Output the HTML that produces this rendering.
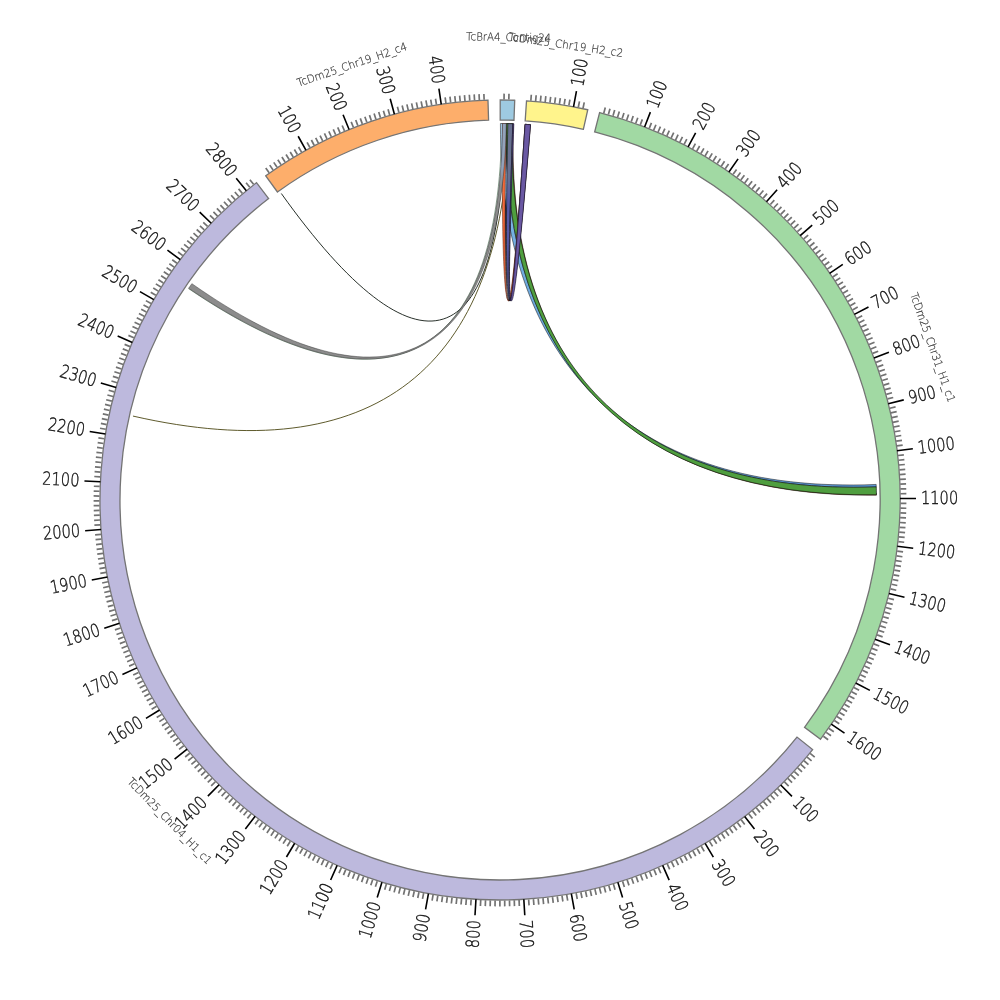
<!DOCTYPE html>
<html lang="en"><head><meta charset="utf-8"><title>Circos</title>
<style>html,body{margin:0;padding:0;background:#fff}svg{display:block}</style></head>
<body>
<svg width="1000" height="1000" viewBox="0 0 1000 1000">
<rect width="1000" height="1000" fill="#fff"/>
<defs><linearGradient id="gGray" gradientUnits="userSpaceOnUse" x1="0" y1="124" x2="0" y2="185"><stop offset="0" stop-color="#93a3bb"/><stop offset="0.7" stop-color="#93a3bb"/><stop offset="1" stop-color="#8c8c8c"/></linearGradient><linearGradient id="gInd" gradientUnits="userSpaceOnUse" x1="0" y1="124" x2="0" y2="200"><stop offset="0" stop-color="#687090"/><stop offset="0.7" stop-color="#687090"/><stop offset="1" stop-color="#5558a6"/></linearGradient><linearGradient id="gBlue" gradientUnits="userSpaceOnUse" x1="0" y1="124" x2="0" y2="490"><stop offset="0" stop-color="#a6d4f0"/><stop offset="0.12" stop-color="#9acbee"/><stop offset="0.3" stop-color="#74b0e2"/><stop offset="1" stop-color="#5b96d2"/></linearGradient></defs>
<g id="links">
<path d="M504.25 123.52 C501.59 359.51 418.4 385.63 281.33 193.51" fill="none" stroke="#101812" stroke-width="0.9"/>
<path d="M509.21 123.61 C503.19 369.54 372.78 470.91 132.98 416.07" fill="none" stroke="#4c4714" stroke-width="0.9"/>
<path d="M501.64 123.5 C500.59 363.5 387.06 423.34 188.49 288.55" fill="none" stroke="#2f5a38" stroke-width="0.55"/>
<path d="M505.83 123.55 C502.18 359.52 511.32 359.96 530.35 124.73 A376.5 376.5 0 0 0 525.09 124.34 C509.36 359.81 503.02 359.53 508.09 123.59 A376.5 376.5 0 0 0 505.83 123.55 Z" fill="#1f2a4d" fill-opacity="1" stroke="#0d0d0d" stroke-width="0.4" stroke-linejoin="round"/>
<path d="M500.42 123.5 C500.15 365.5 634.42 495.32 876.27 486.91 A376.5 376.5 0 0 0 876.18 484.43 C634.38 494.44 502.16 365.52 506.06 123.55 A376.5 376.5 0 0 0 500.42 123.5 Z" fill="url(#gBlue)" fill-opacity="1" stroke="#0d0d0d" stroke-width="0.5" stroke-linejoin="round"/>
<path d="M510.56 123.65 C503.77 365.55 634.49 498.27 876.47 495.15 A376.5 376.5 0 0 0 876.44 493.22 C634.48 497.58 504.82 365.59 513.49 123.74 A376.5 376.5 0 0 0 510.56 123.65 Z" fill="#8a3a1c" fill-opacity="1" stroke="#0d0d0d" stroke-width="0.4" stroke-linejoin="round"/>
<path d="M506.28 123.55 C502.24 365.52 634.49 498.14 876.46 494.79 A376.5 376.5 0 0 0 876.27 486.91 C634.42 495.32 504.58 365.58 512.82 123.72 A376.5 376.5 0 0 0 506.28 123.55 Z" fill="#4f9e3f" fill-opacity="1" stroke="#0d0d0d" stroke-width="0.6" stroke-linejoin="round"/>
<path d="M502.45 123.51 C500.91 359.5 511.32 359.96 530.35 124.73 A376.5 376.5 0 0 0 525.09 124.34 C509.36 359.81 502.26 359.52 506.06 123.55 A376.5 376.5 0 0 0 502.45 123.51 Z" fill="#f26b3a" fill-opacity="1" stroke="#5a2010" stroke-width="0.55" stroke-linejoin="round"/>
<path d="M502.45 123.51 C500.89 363.5 388.29 421.56 191.87 283.65 A376.5 376.5 0 0 0 188.66 288.29 C387.12 423.24 502.28 363.52 506.28 123.55 A376.5 376.5 0 0 0 502.45 123.51 Z" fill="url(#gGray)" fill-opacity="1" stroke="#2a2a2a" stroke-width="0.45" stroke-linejoin="round"/>
<path d="M507.86 123.58 C502.93 359.53 511.32 359.96 530.35 124.73 A376.5 376.5 0 0 0 525.09 124.34 C509.36 359.81 504.78 359.58 512.82 123.72 A376.5 376.5 0 0 0 507.86 123.58 Z" fill="url(#gInd)" fill-opacity="1" stroke="#0d0d0d" stroke-width="0.6" stroke-linejoin="round"/>
<path d="M512.82 123.72 C504.78 359.58 511.41 359.96 530.57 124.74 A376.5 376.5 0 0 0 525.09 124.34 C509.36 359.81 505.17 359.6 513.85 123.75 A376.5 376.5 0 0 0 512.82 123.72 Z" fill="#6a58a3" fill-opacity="1" stroke="#15102a" stroke-width="0.6" stroke-linejoin="round"/>
</g>
<g id="ideograms" stroke="#747474" stroke-width="1.3" stroke-linejoin="miter">
<path d="M500.21 100 A400 400 0 0 1 514.72 100.27 L513.98 120.26 A380 380 0 0 0 500.2 120 Z" fill="#9ecae1"/>
<path d="M526.51 100.88 A400 400 0 0 1 587.78 109.75 L583.39 129.26 A380 380 0 0 0 525.18 120.84 Z" fill="#fff48c"/>
<path d="M599.61 112.6 A400 400 0 0 1 820.58 739.23 L804.55 727.27 A380 380 0 0 0 594.63 131.97 Z" fill="#a1d9a3"/>
<path d="M812.61 749.55 A400 400 0 1 1 256.48 182.67 L268.66 198.53 A380 380 0 1 0 796.98 737.07 Z" fill="#bdb9dd"/>
<path d="M265.73 175.78 A400 400 0 0 1 487.98 100.18 L488.58 120.17 A380 380 0 0 0 277.45 191.99 Z" fill="#fdae6b"/>
</g>
<path d="M504.05 99.52 L504.11 93.62 M508.84 99.6 L508.97 93.7 M530.85 100.69 L531.3 94.81 M535.63 101.09 L536.15 95.21 M540.4 101.54 L540.99 95.67 M545.17 102.06 L545.83 96.19 M549.93 102.62 L550.66 96.77 M554.68 103.25 L555.49 97.41 M559.43 103.93 L560.3 98.1 M564.17 104.67 L565.11 98.85 M568.89 105.47 L569.91 99.66 M578.32 107.23 L579.48 101.45 M583.02 108.2 L584.24 102.43 M603.77 113.18 L605.3 107.48 M608.39 114.45 L609.99 108.77 M613 115.77 L614.67 110.11 M617.59 117.15 L619.33 111.51 M622.17 118.59 L623.97 112.97 M626.73 120.08 L628.59 114.48 M631.27 121.62 L633.2 116.05 M635.79 123.22 L637.79 117.67 M640.29 124.87 L642.36 119.35 M649.23 128.34 L651.43 122.87 M653.67 130.15 L655.93 124.71 M658.09 132.02 L660.42 126.6 M662.48 133.94 L664.88 128.55 M666.85 135.91 L669.31 130.55 M671.2 137.94 L673.72 132.6 M675.52 140.01 L678.11 134.71 M679.82 142.14 L682.47 136.87 M684.09 144.32 L686.8 139.08 M692.56 148.83 L695.39 143.65 M696.75 151.16 L699.64 146.02 M700.91 153.54 L703.87 148.43 M705.04 155.97 L708.06 150.9 M709.15 158.45 L712.23 153.42 M713.22 160.98 L716.36 155.98 M717.26 163.55 L720.47 158.6 M721.28 166.18 L724.54 161.26 M725.26 168.85 L728.58 163.97 M733.12 174.34 L736.56 169.54 M737 177.15 L740.5 172.4 M740.85 180.02 L744.4 175.3 M744.67 182.92 L748.27 178.25 M748.45 185.87 L752.11 181.25 M752.19 188.87 L755.9 184.29 M755.9 191.91 L759.67 187.37 M759.57 195 L763.39 190.51 M763.2 198.13 L767.08 193.68 M770.35 204.52 L774.33 200.16 M773.87 207.77 L777.9 203.47 M777.35 211.07 L781.43 206.82 M780.79 214.42 L784.92 210.21 M784.19 217.8 L788.37 213.64 M787.55 221.22 L791.78 217.11 M790.86 224.68 L795.15 220.63 M794.14 228.19 L798.47 224.18 M797.37 231.73 L801.75 227.77 M803.71 238.92 L808.18 235.08 M806.81 242.58 L811.33 238.79 M809.87 246.27 L814.44 242.53 M812.89 250 L817.5 246.32 M815.86 253.76 L820.51 250.14 M818.79 257.56 L823.48 253.99 M821.67 261.4 L826.4 257.88 M824.5 265.26 L829.28 261.81 M827.29 269.17 L832.11 265.77 M832.72 277.07 L837.62 273.78 M835.36 281.07 L840.3 277.84 M837.96 285.1 L842.94 281.93 M840.51 289.16 L845.53 286.06 M843.01 293.25 L848.06 290.21 M845.46 297.37 L850.55 294.39 M847.86 301.53 L852.99 298.6 M850.21 305.7 L855.37 302.84 M852.51 309.91 L857.71 307.11 M856.96 318.41 L862.22 315.73 M859.11 322.69 L864.4 320.08 M861.21 327.01 L866.53 324.46 M863.26 331.34 L868.61 328.86 M865.25 335.7 L870.63 333.28 M867.19 340.09 L872.6 337.73 M869.08 344.5 L874.52 342.21 M870.91 348.93 L876.38 346.7 M872.7 353.38 L878.19 351.22 M876.1 362.34 L881.64 360.32 M877.72 366.86 L883.29 364.89 M879.29 371.39 L884.88 369.49 M880.8 375.94 L886.41 374.11 M882.26 380.51 L887.89 378.75 M883.66 385.09 L889.31 383.4 M885.01 389.69 L890.68 388.07 M886.3 394.31 L891.99 392.75 M887.54 398.94 L893.25 397.45 M889.85 408.25 L895.59 406.9 M890.92 412.93 L896.68 411.64 M891.93 417.61 L897.71 416.4 M892.89 422.31 L898.68 421.17 M893.79 427.02 L899.6 425.95 M894.64 431.74 L900.45 430.73 M895.43 436.47 L901.25 435.53 M896.16 441.21 L902 440.34 M896.84 445.96 L902.68 445.16 M898.02 455.47 L903.88 454.82 M898.52 460.24 L904.39 459.66 M898.97 465.02 L904.85 464.5 M899.36 469.8 L905.24 469.35 M899.69 474.58 L905.58 474.2 M899.97 479.37 L905.86 479.06 M900.19 484.16 L906.08 483.92 M900.35 488.95 L906.25 488.79 M900.45 493.74 L906.35 493.65 M900.49 503.33 L906.39 503.38 M900.42 508.13 L906.32 508.25 M900.29 512.92 L906.19 513.11 M900.11 517.71 L906 517.97 M899.87 522.5 L905.76 522.83 M899.57 527.29 L905.46 527.69 M899.21 532.07 L905.1 532.54 M898.8 536.85 L904.68 537.39 M898.33 541.62 L904.2 542.23 M897.22 551.14 L903.07 551.9 M896.58 555.9 L902.42 556.72 M895.88 560.64 L901.71 561.53 M895.13 565.38 L900.95 566.34 M894.32 570.1 L900.13 571.14 M893.45 574.82 L899.25 575.92 M892.53 579.52 L898.31 580.7 M891.55 584.22 L897.31 585.46 M890.51 588.9 L896.26 590.21 M888.27 598.22 L893.99 599.67 M887.06 602.87 L892.77 604.38 M885.81 607.49 L891.49 609.08 M884.49 612.1 L890.15 613.76 M883.12 616.7 L888.76 618.42 M881.7 621.28 L887.32 623.06 M880.22 625.84 L885.82 627.69 M878.68 630.38 L884.26 632.3 M877.09 634.91 L882.65 636.89 M873.76 643.9 L879.26 646.02 M872.01 648.36 L877.49 650.55 M870.2 652.8 L875.66 655.06 M868.35 657.23 L873.77 659.54 M866.44 661.63 L871.84 664.01 M864.48 666 L869.85 668.45 M862.46 670.35 L867.8 672.86 M860.4 674.68 L865.71 677.25 M858.28 678.98 L863.56 681.62 M853.89 687.51 L859.11 690.27 M851.62 691.73 L856.8 694.56 M849.3 695.93 L854.45 698.82 M846.93 700.1 L852.04 703.05 M844.51 704.24 L849.59 707.25 M842.04 708.35 L847.08 711.42 M839.52 712.43 L844.52 715.56 M836.95 716.48 L841.92 719.67 M834.34 720.5 L839.26 723.74 M828.96 728.44 L833.81 731.8 M826.2 732.36 L831.01 735.78 M823.4 736.25 L828.16 739.73 M810.14 753.41 L814.71 757.14 M807.08 757.1 L811.6 760.89 M803.98 760.76 L808.46 764.6 M800.84 764.38 L805.27 768.28 M797.65 767.96 L802.03 771.91 M794.42 771.51 L798.76 775.51 M791.15 775.01 L795.44 779.07 M787.83 778.48 L792.07 782.58 M784.48 781.91 L788.67 786.06 M777.65 788.64 L781.74 792.89 M774.17 791.94 L778.21 796.24 M770.66 795.2 L774.65 799.55 M767.1 798.42 L771.04 802.82 M763.51 801.6 L767.39 806.04 M759.88 804.73 L763.71 809.22 M756.22 807.82 L759.99 812.36 M752.51 810.87 L756.23 815.45 M748.77 813.87 L752.44 818.49 M741.18 819.73 L744.74 824.44 M737.34 822.6 L740.84 827.35 M733.46 825.42 L736.9 830.21 M729.55 828.19 L732.93 833.02 M725.6 830.91 L728.92 835.79 M721.62 833.59 L724.89 838.51 M717.61 836.22 L720.82 841.17 M713.57 838.8 L716.72 843.79 M709.5 841.34 L712.59 846.36 M701.27 846.25 L704.23 851.35 M697.11 848.64 L700.01 853.77 M692.92 850.97 L695.76 856.14 M688.7 853.26 L691.48 858.46 M684.46 855.49 L687.18 860.73 M680.19 857.67 L682.85 862.94 M675.9 859.81 L678.49 865.11 M671.58 861.89 L674.1 867.22 M667.23 863.92 L669.69 869.28 M658.47 867.81 L660.8 873.23 M654.05 869.69 L656.32 875.13 M649.62 871.5 L651.82 876.98 M645.16 873.27 L647.3 878.77 M640.68 874.98 L642.75 880.5 M636.18 876.64 L638.19 882.19 M631.66 878.24 L633.6 883.81 M627.12 879.79 L628.99 885.38 M622.57 881.28 L624.37 886.9 M613.4 884.11 L615.07 889.77 M608.79 885.44 L610.4 891.12 M604.17 886.71 L605.71 892.41 M599.53 887.93 L601 893.65 M594.88 889.1 L596.28 894.83 M590.22 890.21 L591.55 895.95 M585.54 891.26 L586.8 897.02 M580.85 892.25 L582.04 898.03 M576.15 893.19 L577.27 898.99 M566.71 894.91 L567.69 900.72 M561.98 895.68 L562.89 901.5 M557.24 896.39 L558.08 902.23 M552.49 897.05 L553.26 902.9 M547.73 897.65 L548.43 903.5 M542.96 898.19 L543.6 904.05 M538.19 898.67 L538.76 904.55 M533.42 899.1 L533.91 904.98 M528.64 899.47 L529.06 905.36 M519.06 900.05 L519.34 905.94 M514.27 900.25 L514.48 906.14 M509.48 900.39 L509.62 906.29 M504.69 900.47 L504.75 906.37 M499.89 900.5 L499.89 906.4 M495.1 900.47 L495.02 906.37 M490.3 900.38 L490.16 906.28 M485.51 900.24 L485.29 906.13 M480.72 900.04 L480.43 905.93 M471.14 899.46 L470.72 905.34 M466.36 899.09 L465.87 904.96 M461.59 898.65 L461.02 904.53 M456.82 898.17 L456.18 904.03 M452.05 897.62 L451.35 903.48 M447.3 897.02 L446.52 902.87 M442.55 896.36 L441.7 902.2 M437.81 895.64 L436.89 901.47 M433.07 894.87 L432.09 900.69 M423.64 893.15 L422.51 898.94 M418.94 892.21 L417.74 897.99 M414.25 891.21 L412.98 896.97 M409.57 890.16 L408.24 895.9 M404.9 889.05 L403.5 894.78 M400.25 887.88 L398.78 893.59 M395.62 886.66 L394.08 892.35 M390.99 885.38 L389.39 891.06 M386.39 884.05 L384.71 889.71 M377.22 881.22 L375.42 886.83 M372.67 879.72 L370.79 885.31 M368.13 878.17 L366.19 883.74 M363.61 876.56 L361.61 882.11 M359.12 874.9 L357.04 880.43 M354.64 873.19 L352.5 878.69 M350.18 871.42 L347.97 876.89 M345.74 869.6 L343.47 875.05 M341.33 867.73 L338.99 873.15 M332.57 863.82 L330.1 869.18 M328.23 861.79 L325.7 867.12 M323.91 859.71 L321.31 865.01 M319.61 857.58 L316.96 862.84 M315.34 855.39 L312.62 860.63 M311.1 853.15 L308.32 858.36 M306.89 850.87 L304.04 856.04 M302.7 848.53 L299.79 853.66 M298.54 846.14 L295.57 851.24 M290.31 841.22 L287.22 846.25 M286.24 838.69 L283.09 843.67 M282.2 836.1 L278.99 841.05 M278.19 833.47 L274.93 838.38 M274.22 830.79 L270.89 835.66 M270.27 828.06 L266.89 832.9 M266.36 825.29 L262.92 830.08 M262.48 822.47 L258.98 827.22 M258.64 819.6 L255.08 824.31 M251.06 813.73 L247.39 818.35 M247.32 810.73 L243.6 815.31 M243.62 807.68 L239.84 812.21 M239.95 804.59 L236.12 809.08 M236.32 801.45 L232.44 805.89 M232.73 798.28 L228.8 802.67 M229.18 795.05 L225.19 799.4 M225.67 791.79 L221.63 796.09 M222.19 788.49 L218.1 792.74 M215.37 781.75 L211.17 785.9 M212.01 778.32 L207.77 782.42 M208.7 774.85 L204.41 778.9 M205.43 771.35 L201.09 775.34 M202.2 767.8 L197.82 771.75 M199.02 764.22 L194.58 768.11 M195.88 760.59 L191.4 764.43 M192.78 756.93 L188.25 760.72 M189.72 753.24 L185.15 756.97 M183.75 745.74 L179.09 749.36 M180.83 741.93 L176.13 745.5 M177.96 738.09 L173.21 741.6 M175.13 734.22 L170.34 737.67 M172.35 730.31 L167.52 733.71 M169.61 726.37 L164.75 729.71 M166.93 722.4 L162.02 725.68 M164.29 718.4 L159.34 721.62 M161.7 714.36 L156.71 717.52 M156.66 706.2 L151.6 709.24 M154.22 702.08 L149.12 705.05 M151.82 697.92 L146.69 700.84 M149.48 693.74 L144.32 696.59 M147.18 689.53 L141.99 692.32 M144.94 685.29 L139.71 688.02 M142.75 681.03 L137.48 683.69 M140.61 676.74 L135.31 679.34 M138.52 672.42 L133.19 674.96 M134.49 663.72 L129.11 666.13 M132.56 659.33 L127.14 661.68 M130.68 654.92 L125.23 657.2 M128.85 650.49 L123.38 652.7 M127.07 646.03 L121.58 648.18 M125.35 641.56 L119.83 643.64 M123.68 637.06 L118.14 639.08 M122.07 632.54 L116.5 634.5 M120.51 628.01 L114.92 629.9 M117.55 618.89 L111.92 620.64 M116.16 614.3 L110.5 615.98 M114.82 609.7 L109.14 611.31 M113.53 605.08 L107.84 606.62 M112.3 600.44 L106.59 601.92 M111.12 595.79 L105.4 597.2 M110.01 591.13 L104.26 592.47 M108.94 586.45 L103.18 587.73 M107.94 581.77 L102.16 582.97 M106.09 572.35 L100.29 573.42 M105.25 567.63 L99.44 568.63 M104.47 562.9 L98.64 563.83 M103.75 558.16 L97.91 559.02 M103.08 553.41 L97.23 554.2 M102.47 548.66 L96.61 549.37 M101.91 543.9 L96.05 544.54 M101.42 539.13 L95.54 539.7 M100.98 534.35 L95.1 534.86 M100.27 524.79 L94.38 525.15 M100 520 L94.11 520.29 M99.79 515.21 L93.89 515.43 M99.64 510.42 L93.74 510.57 M99.54 505.62 L93.64 505.7 M99.5 500.83 L93.6 500.84 M99.52 496.03 L93.62 495.97 M99.6 491.24 L93.7 491.11 M99.73 486.44 L93.83 486.24 M100.17 476.86 L94.28 476.52 M100.47 472.08 L94.59 471.67 M100.84 467.3 L94.96 466.82 M101.26 462.52 L95.38 461.97 M101.73 457.75 L95.87 457.13 M102.27 452.98 L96.41 452.29 M102.86 448.23 L97.01 447.46 M103.51 443.47 L97.67 442.64 M104.21 438.73 L98.38 437.83 M105.79 429.27 L99.99 428.23 M106.67 424.56 L100.88 423.45 M107.6 419.85 L101.82 418.67 M108.59 415.16 L102.82 413.91 M109.63 410.48 L103.88 409.16 M110.73 405.81 L105 404.43 M111.89 401.16 L106.17 399.7 M113.1 396.52 L107.4 395 M114.37 391.9 L108.68 390.3 M117.06 382.69 L111.42 380.97 M118.5 378.12 L112.88 376.32 M119.98 373.56 L114.39 371.7 M121.52 369.02 L115.95 367.09 M123.12 364.5 L117.57 362.5 M124.77 359.99 L119.24 357.93 M126.47 355.51 L120.97 353.38 M128.23 351.05 L122.75 348.85 M130.04 346.61 L124.59 344.35 M133.82 337.79 L128.42 335.4 M135.79 333.42 L130.42 330.97 M137.81 329.07 L132.47 326.55 M139.88 324.75 L134.57 322.17 M142 320.45 L136.73 317.8 M144.18 316.18 L138.94 313.47 M146.4 311.93 L141.2 309.16 M148.68 307.71 L143.51 304.88 M151.01 303.52 L145.87 300.62 M155.81 295.22 L150.74 292.2 M158.29 291.11 L153.26 288.03 M160.82 287.03 L155.82 283.9 M163.39 282.99 L158.43 279.79 M166.01 278.97 L161.09 275.72 M168.68 274.99 L163.8 271.68 M171.4 271.04 L166.56 267.67 M174.16 267.12 L169.36 263.69 M176.98 263.24 L172.22 259.75 M182.74 255.57 L178.06 251.97 M185.69 251.79 L181.06 248.13 M188.68 248.05 L184.1 244.33 M191.72 244.34 L187.18 240.57 M194.8 240.66 L190.31 236.84 M197.93 237.03 L193.48 233.15 M201.1 233.43 L196.7 229.5 M204.31 229.87 L199.96 225.89 M207.57 226.35 L203.26 222.32 M214.2 219.43 L209.99 215.29 M217.58 216.03 L213.42 211.84 M221 212.66 L216.89 208.43 M224.46 209.34 L220.41 205.06 M227.96 206.07 L223.96 201.74 M231.5 202.83 L227.55 198.45 M235.08 199.64 L231.18 195.21 M238.7 196.49 L234.85 192.02 M242.35 193.38 L238.55 188.86 M249.76 187.3 L246.08 182.69 M253.53 184.33 L249.89 179.68 M269.15 172.73 L265.75 167.91 M273.08 169.99 L269.74 165.12 M277.05 167.29 L273.77 162.39 M281.05 164.65 L277.82 159.71 M285.08 162.05 L281.91 157.07 M289.14 159.5 L286.04 154.49 M293.23 157 L290.19 151.95 M297.36 154.55 L294.37 149.46 M301.51 152.15 L298.58 147.02 M309.89 147.5 L307.09 142.3 M314.13 145.24 L311.39 140.02 M318.39 143.05 L315.71 137.79 M322.67 140.9 L320.06 135.61 M326.99 138.8 L324.44 133.48 M331.32 136.75 L328.84 131.4 M335.68 134.76 L333.26 129.38 M340.07 132.82 L337.71 127.41 M344.48 130.93 L342.18 125.49 M353.36 127.31 L351.2 121.82 M357.83 125.58 L355.74 120.07 M362.32 123.91 L360.29 118.37 M366.84 122.29 L364.87 116.72 M371.37 120.72 L369.47 115.13 M375.92 119.21 L374.09 113.6 M380.49 117.75 L378.73 112.12 M385.07 116.34 L383.38 110.69 M389.67 115 L388.05 109.32 M398.92 112.46 L397.43 106.76 M403.57 111.28 L402.15 105.56 M408.23 110.16 L406.88 104.41 M412.9 109.08 L411.62 103.33 M417.59 108.07 L416.38 102.3 M422.29 107.11 L421.14 101.32 M427 106.21 L425.92 100.41 M431.72 105.36 L430.71 99.55 M436.45 104.57 L435.51 98.75 M445.93 103.17 L445.14 97.32 M450.69 102.55 L449.96 96.69 M455.45 101.99 L454.8 96.12 M460.22 101.48 L459.63 95.61 M464.99 101.03 L464.48 95.16 M469.77 100.64 L469.33 94.76 M474.56 100.31 L474.18 94.42 M479.34 100.03 L479.04 94.14 M484.13 99.81 L483.9 93.92" stroke="#727272" stroke-width="1.7" fill="none"/>
<path d="M573.52 106.81 L576.46 91.09 M644.59 127.05 L650.37 112.13 M688.1 146.99 L695.63 132.87 M728.92 171.98 L738.08 158.86 M766.46 201.67 L777.12 189.74 M800.19 235.64 L812.19 225.06 M829.61 273.38 L842.8 264.32 M854.32 314.38 L868.5 306.95 M873.96 358.03 L888.92 352.35 M888.24 403.71 L903.77 399.86 M896.96 450.77 L912.84 448.8 M900 498.54 L916 498.48 M897.31 546.33 L913.2 548.18 M888.93 593.45 L904.49 597.19 M874.98 639.24 L889.98 644.81 M855.67 683.03 L869.89 690.35 M831.26 724.2 L844.51 733.17 M780.73 784.94 L791.96 796.33 M744.69 816.43 L754.48 829.09 M705.14 843.39 L713.35 857.13 M662.66 865.43 L669.16 880.05 M617.84 882.25 L622.56 897.54 M571.34 893.59 L574.2 909.33 M523.82 899.29 L524.78 915.26 M475.96 899.28 L475 915.25 M428.44 893.55 L425.58 909.29 M381.95 882.18 L377.22 897.47 M337.14 865.35 L330.63 879.96 M294.67 843.28 L286.46 857.01 M255.14 816.29 L245.34 828.95 M219.11 784.78 L207.87 796.17 M187.11 749.19 L174.59 759.16 M159.58 710.04 L145.96 718.44 M136.93 667.87 L122.41 674.59 M119.48 623.3 L104.26 628.24 M107.48 576.97 L91.77 580.05 M101.09 529.53 L85.14 530.72 M100.42 481.68 L84.44 480.94 M105.47 434.08 L89.69 431.44 M116.17 387.43 L100.81 382.92 M132.36 342.39 L117.66 336.08 M153.82 299.6 L139.97 291.59 M180.23 259.69 L167.44 250.08 M211.23 223.21 L199.68 212.14 M246.35 190.7 L236.21 178.33 M305.93 150.23 L298.16 136.24 M349.09 129.56 L343.06 114.74 M394.42 114.18 L390.2 98.75 M441.26 104.34 L438.91 88.51" stroke="#000" stroke-width="1.6" fill="none"/>
<g id="ticklabels" font-family="'DejaVu Sans Light','Liberation Sans',sans-serif" font-size="18" fill="#111" stroke="#111" stroke-width="0.4">
<text transform="translate(577.38 86.17) rotate(-79.41)" text-anchor="start" dy="5.6" textLength="27.9" lengthAdjust="spacingAndGlyphs">100</text>
<text transform="translate(652.18 107.47) rotate(-68.81)" text-anchor="start" dy="5.6" textLength="27.9" lengthAdjust="spacingAndGlyphs">100</text>
<text transform="translate(697.98 128.45) rotate(-61.95)" text-anchor="start" dy="5.6" textLength="27.9" lengthAdjust="spacingAndGlyphs">200</text>
<text transform="translate(740.94 154.76) rotate(-55.09)" text-anchor="start" dy="5.6" textLength="27.9" lengthAdjust="spacingAndGlyphs">300</text>
<text transform="translate(780.45 186.01) rotate(-48.23)" text-anchor="start" dy="5.6" textLength="27.9" lengthAdjust="spacingAndGlyphs">400</text>
<text transform="translate(815.95 221.76) rotate(-41.37)" text-anchor="start" dy="5.6" textLength="27.9" lengthAdjust="spacingAndGlyphs">500</text>
<text transform="translate(846.92 261.49) rotate(-34.51)" text-anchor="start" dy="5.6" textLength="27.9" lengthAdjust="spacingAndGlyphs">600</text>
<text transform="translate(872.92 304.63) rotate(-27.65)" text-anchor="start" dy="5.6" textLength="27.9" lengthAdjust="spacingAndGlyphs">700</text>
<text transform="translate(893.59 350.57) rotate(-20.79)" text-anchor="start" dy="5.6" textLength="27.9" lengthAdjust="spacingAndGlyphs">800</text>
<text transform="translate(908.62 398.66) rotate(-13.93)" text-anchor="start" dy="5.6" textLength="27.9" lengthAdjust="spacingAndGlyphs">900</text>
<text transform="translate(917.8 448.19) rotate(-7.07)" text-anchor="start" dy="5.6" textLength="37.2" lengthAdjust="spacingAndGlyphs">1000</text>
<text transform="translate(921 498.46) rotate(-0.21)" text-anchor="start" dy="5.6" textLength="37.2" lengthAdjust="spacingAndGlyphs">1100</text>
<text transform="translate(918.17 548.76) rotate(6.65)" text-anchor="start" dy="5.6" textLength="37.2" lengthAdjust="spacingAndGlyphs">1200</text>
<text transform="translate(909.35 598.36) rotate(13.51)" text-anchor="start" dy="5.6" textLength="37.2" lengthAdjust="spacingAndGlyphs">1300</text>
<text transform="translate(894.67 646.55) rotate(20.37)" text-anchor="start" dy="5.6" textLength="37.2" lengthAdjust="spacingAndGlyphs">1400</text>
<text transform="translate(874.34 692.64) rotate(27.23)" text-anchor="start" dy="5.6" textLength="37.2" lengthAdjust="spacingAndGlyphs">1500</text>
<text transform="translate(848.65 735.97) rotate(34.09)" text-anchor="start" dy="5.6" textLength="37.2" lengthAdjust="spacingAndGlyphs">1600</text>
<text transform="translate(795.47 799.9) rotate(45.43)" text-anchor="start" dy="5.6" textLength="27.9" lengthAdjust="spacingAndGlyphs">100</text>
<text transform="translate(757.54 833.04) rotate(52.29)" text-anchor="start" dy="5.6" textLength="27.9" lengthAdjust="spacingAndGlyphs">200</text>
<text transform="translate(715.91 861.42) rotate(59.15)" text-anchor="start" dy="5.6" textLength="27.9" lengthAdjust="spacingAndGlyphs">300</text>
<text transform="translate(671.2 884.62) rotate(66.01)" text-anchor="start" dy="5.6" textLength="27.9" lengthAdjust="spacingAndGlyphs">400</text>
<text transform="translate(624.03 902.31) rotate(72.87)" text-anchor="start" dy="5.6" textLength="27.9" lengthAdjust="spacingAndGlyphs">500</text>
<text transform="translate(575.09 914.25) rotate(79.73)" text-anchor="start" dy="5.6" textLength="27.9" lengthAdjust="spacingAndGlyphs">600</text>
<text transform="translate(525.07 920.25) rotate(86.59)" text-anchor="start" dy="5.6" textLength="27.9" lengthAdjust="spacingAndGlyphs">700</text>
<text transform="translate(474.7 920.24) rotate(273.45)" text-anchor="end" dy="5.6" textLength="27.9" lengthAdjust="spacingAndGlyphs">800</text>
<text transform="translate(424.68 914.21) rotate(280.31)" text-anchor="end" dy="5.6" textLength="27.9" lengthAdjust="spacingAndGlyphs">900</text>
<text transform="translate(375.75 902.25) rotate(287.17)" text-anchor="end" dy="5.6" textLength="37.2" lengthAdjust="spacingAndGlyphs">1000</text>
<text transform="translate(328.59 884.53) rotate(294.03)" text-anchor="end" dy="5.6" textLength="37.2" lengthAdjust="spacingAndGlyphs">1100</text>
<text transform="translate(283.89 861.3) rotate(300.89)" text-anchor="end" dy="5.6" textLength="37.2" lengthAdjust="spacingAndGlyphs">1200</text>
<text transform="translate(242.28 832.9) rotate(307.75)" text-anchor="end" dy="5.6" textLength="37.2" lengthAdjust="spacingAndGlyphs">1300</text>
<text transform="translate(204.36 799.73) rotate(314.61)" text-anchor="end" dy="5.6" textLength="37.2" lengthAdjust="spacingAndGlyphs">1400</text>
<text transform="translate(170.68 762.28) rotate(321.47)" text-anchor="end" dy="5.6" textLength="37.2" lengthAdjust="spacingAndGlyphs">1500</text>
<text transform="translate(141.71 721.06) rotate(328.33)" text-anchor="end" dy="5.6" textLength="37.2" lengthAdjust="spacingAndGlyphs">1600</text>
<text transform="translate(117.87 676.68) rotate(335.19)" text-anchor="end" dy="5.6" textLength="37.2" lengthAdjust="spacingAndGlyphs">1700</text>
<text transform="translate(99.5 629.78) rotate(342.05)" text-anchor="end" dy="5.6" textLength="37.2" lengthAdjust="spacingAndGlyphs">1800</text>
<text transform="translate(86.87 581.01) rotate(348.91)" text-anchor="end" dy="5.6" textLength="37.2" lengthAdjust="spacingAndGlyphs">1900</text>
<text transform="translate(80.15 531.08) rotate(355.77)" text-anchor="end" dy="5.6" textLength="37.2" lengthAdjust="spacingAndGlyphs">2000</text>
<text transform="translate(79.44 480.71) rotate(362.63)" text-anchor="end" dy="5.6" textLength="37.2" lengthAdjust="spacingAndGlyphs">2100</text>
<text transform="translate(84.76 430.62) rotate(369.49)" text-anchor="end" dy="5.6" textLength="37.2" lengthAdjust="spacingAndGlyphs">2200</text>
<text transform="translate(96.02 381.52) rotate(376.35)" text-anchor="end" dy="5.6" textLength="37.2" lengthAdjust="spacingAndGlyphs">2300</text>
<text transform="translate(113.06 334.11) rotate(383.21)" text-anchor="end" dy="5.6" textLength="37.2" lengthAdjust="spacingAndGlyphs">2400</text>
<text transform="translate(135.64 289.08) rotate(390.07)" text-anchor="end" dy="5.6" textLength="37.2" lengthAdjust="spacingAndGlyphs">2500</text>
<text transform="translate(163.45 247.07) rotate(396.93)" text-anchor="end" dy="5.6" textLength="37.2" lengthAdjust="spacingAndGlyphs">2600</text>
<text transform="translate(196.07 208.68) rotate(403.79)" text-anchor="end" dy="5.6" textLength="37.2" lengthAdjust="spacingAndGlyphs">2700</text>
<text transform="translate(233.04 174.47) rotate(410.65)" text-anchor="end" dy="5.6" textLength="37.2" lengthAdjust="spacingAndGlyphs">2800</text>
<text transform="translate(295.74 131.87) rotate(420.98)" text-anchor="end" dy="5.6" textLength="27.9" lengthAdjust="spacingAndGlyphs">100</text>
<text transform="translate(341.17 110.11) rotate(427.84)" text-anchor="end" dy="5.6" textLength="27.9" lengthAdjust="spacingAndGlyphs">200</text>
<text transform="translate(388.88 93.93) rotate(434.7)" text-anchor="end" dy="5.6" textLength="27.9" lengthAdjust="spacingAndGlyphs">300</text>
<text transform="translate(438.18 83.56) rotate(441.56)" text-anchor="end" dy="5.6" textLength="27.9" lengthAdjust="spacingAndGlyphs">400</text>
</g>
<g id="chrlabels" font-family="'DejaVu Sans Light','Liberation Sans',sans-serif" font-size="11" fill="#383838" stroke="#383838" stroke-width="0.2" text-anchor="middle">
<text transform="translate(508.64 37.08) rotate(1.07)" dy="3.9" textLength="85" lengthAdjust="spacingAndGlyphs">TcBrA4_Contig24</text>
<text transform="translate(565.91 44.75) rotate(8.24)" dy="3.9" textLength="115.5" lengthAdjust="spacingAndGlyphs">TcDm25_Chr19_H2_c2</text>
<text transform="translate(932.88 347.36) rotate(70.58)" dy="3.9" textLength="115.5" lengthAdjust="spacingAndGlyphs">TcDm25_Chr31_H1_c1</text>
<text transform="translate(169.81 820.99) rotate(45.81)" dy="3.9" textLength="115.5" lengthAdjust="spacingAndGlyphs">TcDm25_Chr04_H1_c1</text>
<text transform="translate(351.87 64.5) rotate(341.21)" dy="3.9" textLength="115.5" lengthAdjust="spacingAndGlyphs">TcDm25_Chr19_H2_c4</text>
</g>
</svg>
</body></html>
